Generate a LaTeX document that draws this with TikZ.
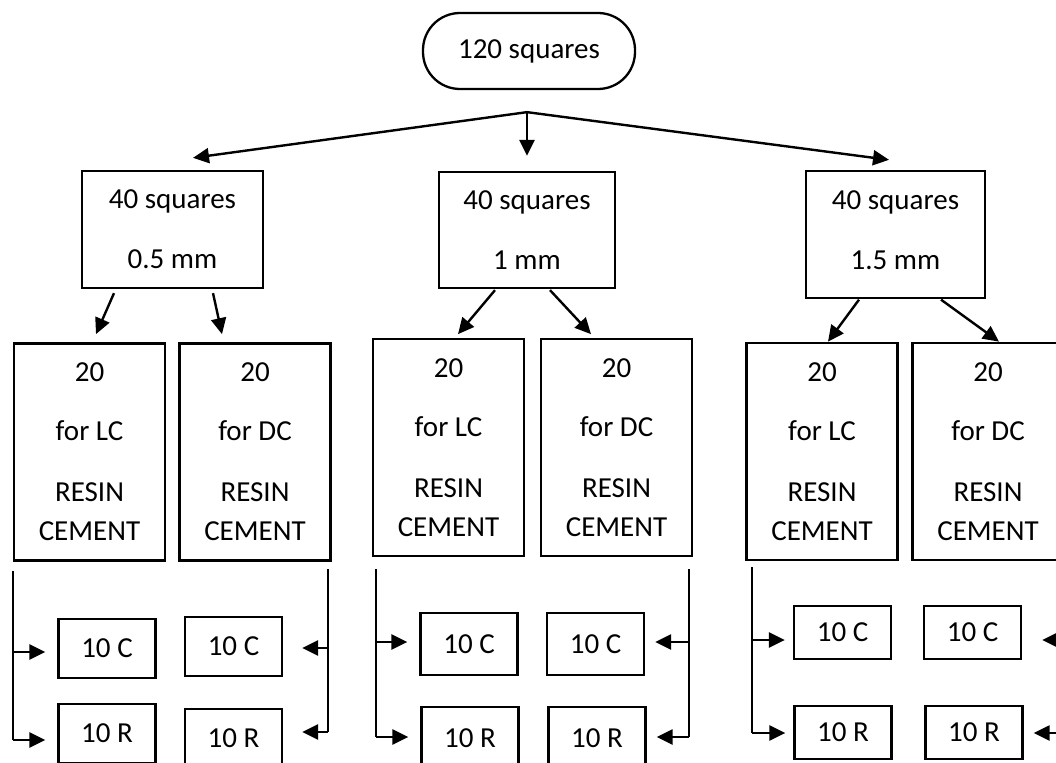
\documentclass[tikz,border=0pt]{standalone}
\usepackage{fontspec}
\setmainfont{Carlito}
\usetikzlibrary{arrows.meta,calc}
\begin{document}
\begin{tikzpicture}[x=1pt,y=-1pt,
  box/.style={draw,line width=2.3pt,inner sep=0pt,align=center,font=\fontsize{29}{39}\selectfont},
  bigbox/.style={box,minimum width=151pt,minimum height=217pt},
  smallbox/.style={box,minimum width=97pt},
  arr/.style={line width=2.4pt,-{Triangle[length=16pt,width=15pt]}},
  brk/.style={line width=1.3pt}]
\useasboundingbox (0,0) rectangle (1056,762);
\clip (0,0) rectangle (1056,762);

% top
\node[box,rounded corners=37pt,minimum width=212pt,minimum height=76pt] (top) at (529,51) {120 squares};
\coordinate (j) at ($(top.south)+(-2,22)$);

% level 2
\node[box,minimum width=181pt,minimum height=117pt] (A) at (172.5,229.5) {40 squares\\[21pt]0.5 mm};
\node[box,minimum width=176pt,minimum height=116pt] (B) at (527,230) {40 squares\\[21pt]1 mm};
\node[box,minimum width=179pt,minimum height=127pt] (C) at (895.5,234.5) {40 squares\\[21pt]1.5 mm\rule[-8pt]{0pt}{8pt}};

\draw[arr] (j) -- ($(A.north)+(20.5,-12)$);
\draw[arr] (j) -- ($(B.north)+(0,-15)$);
\draw[arr] (j) -- ($(C.north)+(-6.5,-10)$);

% level 3
\node[bigbox] (A1) at (89.5,452) {20\\[20pt]for LC\\[22pt]RESIN\\CEMENT};
\node[bigbox] (A2) at (255,452) {20\\[20pt]for DC\\[22pt]RESIN\\CEMENT};
\node[bigbox] (B1) at (448.5,447.5) {20\\[20pt]for LC\\[22pt]RESIN\\CEMENT};
\node[bigbox] (B2) at (616.5,447.5) {20\\[20pt]for DC\\[22pt]RESIN\\CEMENT};
\node[bigbox] (C1) at (822,451.5) {20\\[20pt]for LC\\[22pt]RESIN\\CEMENT};
\node[bigbox] (C2) at (988,451.5) {20\\[20pt]for DC\\[22pt]RESIN\\CEMENT};

\draw[arr] ($(A.south)+(-58.5,4)$) -- ($(A.south)+(-76.5,45)$);
\draw[arr] ($(A.south)+(40.5,4)$) -- ($(A.south)+(49.5,45)$);
\draw[arr] ($(B.south)+(-32,1)$) -- ($(B.south)+(-69,45)$);
\draw[arr] ($(B.south)+(23,1)$) -- ($(B.south)+(64,45)$);
\draw[arr] ($(C.south)+(-36.5,0.5)$) -- ($(C.south)+(-67.5,42.5)$);
\draw[arr] ($(C.south)+(45.5,0.5)$) -- ($(C.south)+(103.5,42.5)$);

% level 4
\node[smallbox,minimum height=59pt] (cA1) at (107,648.5) {10 C};
\node[smallbox,minimum height=59pt] (rA1) at (107,733.5) {10 R};
\node[smallbox,minimum height=59pt] (cA2) at (233.5,646.5) {10 C};
\node[smallbox,minimum height=59pt] (rA2) at (233.5,738.5) {10 R};
\node[smallbox,minimum height=62pt] (cB1) at (469,644) {10 C};
\node[smallbox,minimum height=62pt] (rB1) at (470,738) {10 R};
\node[smallbox,minimum height=62pt] (cB2) at (595.5,644) {10 C};
\node[smallbox,minimum height=62pt] (rB2) at (597,738) {10 R};
\node[smallbox,minimum height=53pt] (cC1) at (842.5,632.5) {10 C};
\node[smallbox,minimum height=53pt] (rC1) at (843,732.5) {10 R};
\node[smallbox,minimum height=53pt] (cC2) at (972.5,632.5) {10 C};
\node[smallbox,minimum height=53pt] (rC2) at (974,732.5) {10 R};

% brackets
\coordinate (tA1) at (13,571);  \coordinate (uA1) at (13,652);  \coordinate (dA1) at (13,740);
\coordinate (tA2) at (328,569); \coordinate (uA2) at (328,648); \coordinate (dA2) at (328,732);
\coordinate (tB1) at (376,569); \coordinate (uB1) at (376,642); \coordinate (dB1) at (376,737);
\coordinate (tB2) at (689,569); \coordinate (uB2) at (689,642); \coordinate (dB2) at (689,737);
\coordinate (tC1) at (752,567); \coordinate (uC1) at (752,640); \coordinate (dC1) at (752,733);
\coordinate (tC2) at (1064,567); \coordinate (uC2) at (1064,640); \coordinate (dC2) at (1064,733);

\draw[brk] (tA1) -- (dA1);
\draw[brk] (tA2) -- (dA2);
\draw[brk] (tB1) -- (dB1);
\draw[brk] (tB2) -- (dB2);
\draw[brk] (tC1) -- (dC1);
\draw[brk] (tC2) -- (dC2);

\draw[arr,shorten >=12pt] (uA1) -- (uA1 -| cA1.west);
\draw[arr,shorten >=12pt] (dA1) -- (dA1 -| rA1.west);
\draw[arr,shorten >=19pt] (uA2) -- (uA2 -| cA2.east);
\draw[arr,shorten >=19pt] (dA2) -- (dA2 -| rA2.east);
\draw[arr,shorten >=12pt] (uB1) -- (uB1 -| cB1.west);
\draw[arr,shorten >=12pt] (dB1) -- (dB1 -| rB1.west);
\draw[arr,shorten >=10pt] (uB2) -- (uB2 -| cB2.east);
\draw[arr,shorten >=10pt] (dB2) -- (dB2 -| rB2.east);
\draw[arr,shorten >=8pt] (uC1) -- (uC1 -| cC1.west);
\draw[arr,shorten >=8pt] (dC1) -- (dC1 -| rC1.west);
\draw[arr,shorten >=20pt] (uC2) -- (uC2 -| cC2.east);
\draw[arr,shorten >=10pt] (dC2) -- (dC2 -| rC2.east);
\end{tikzpicture}
\end{document}
